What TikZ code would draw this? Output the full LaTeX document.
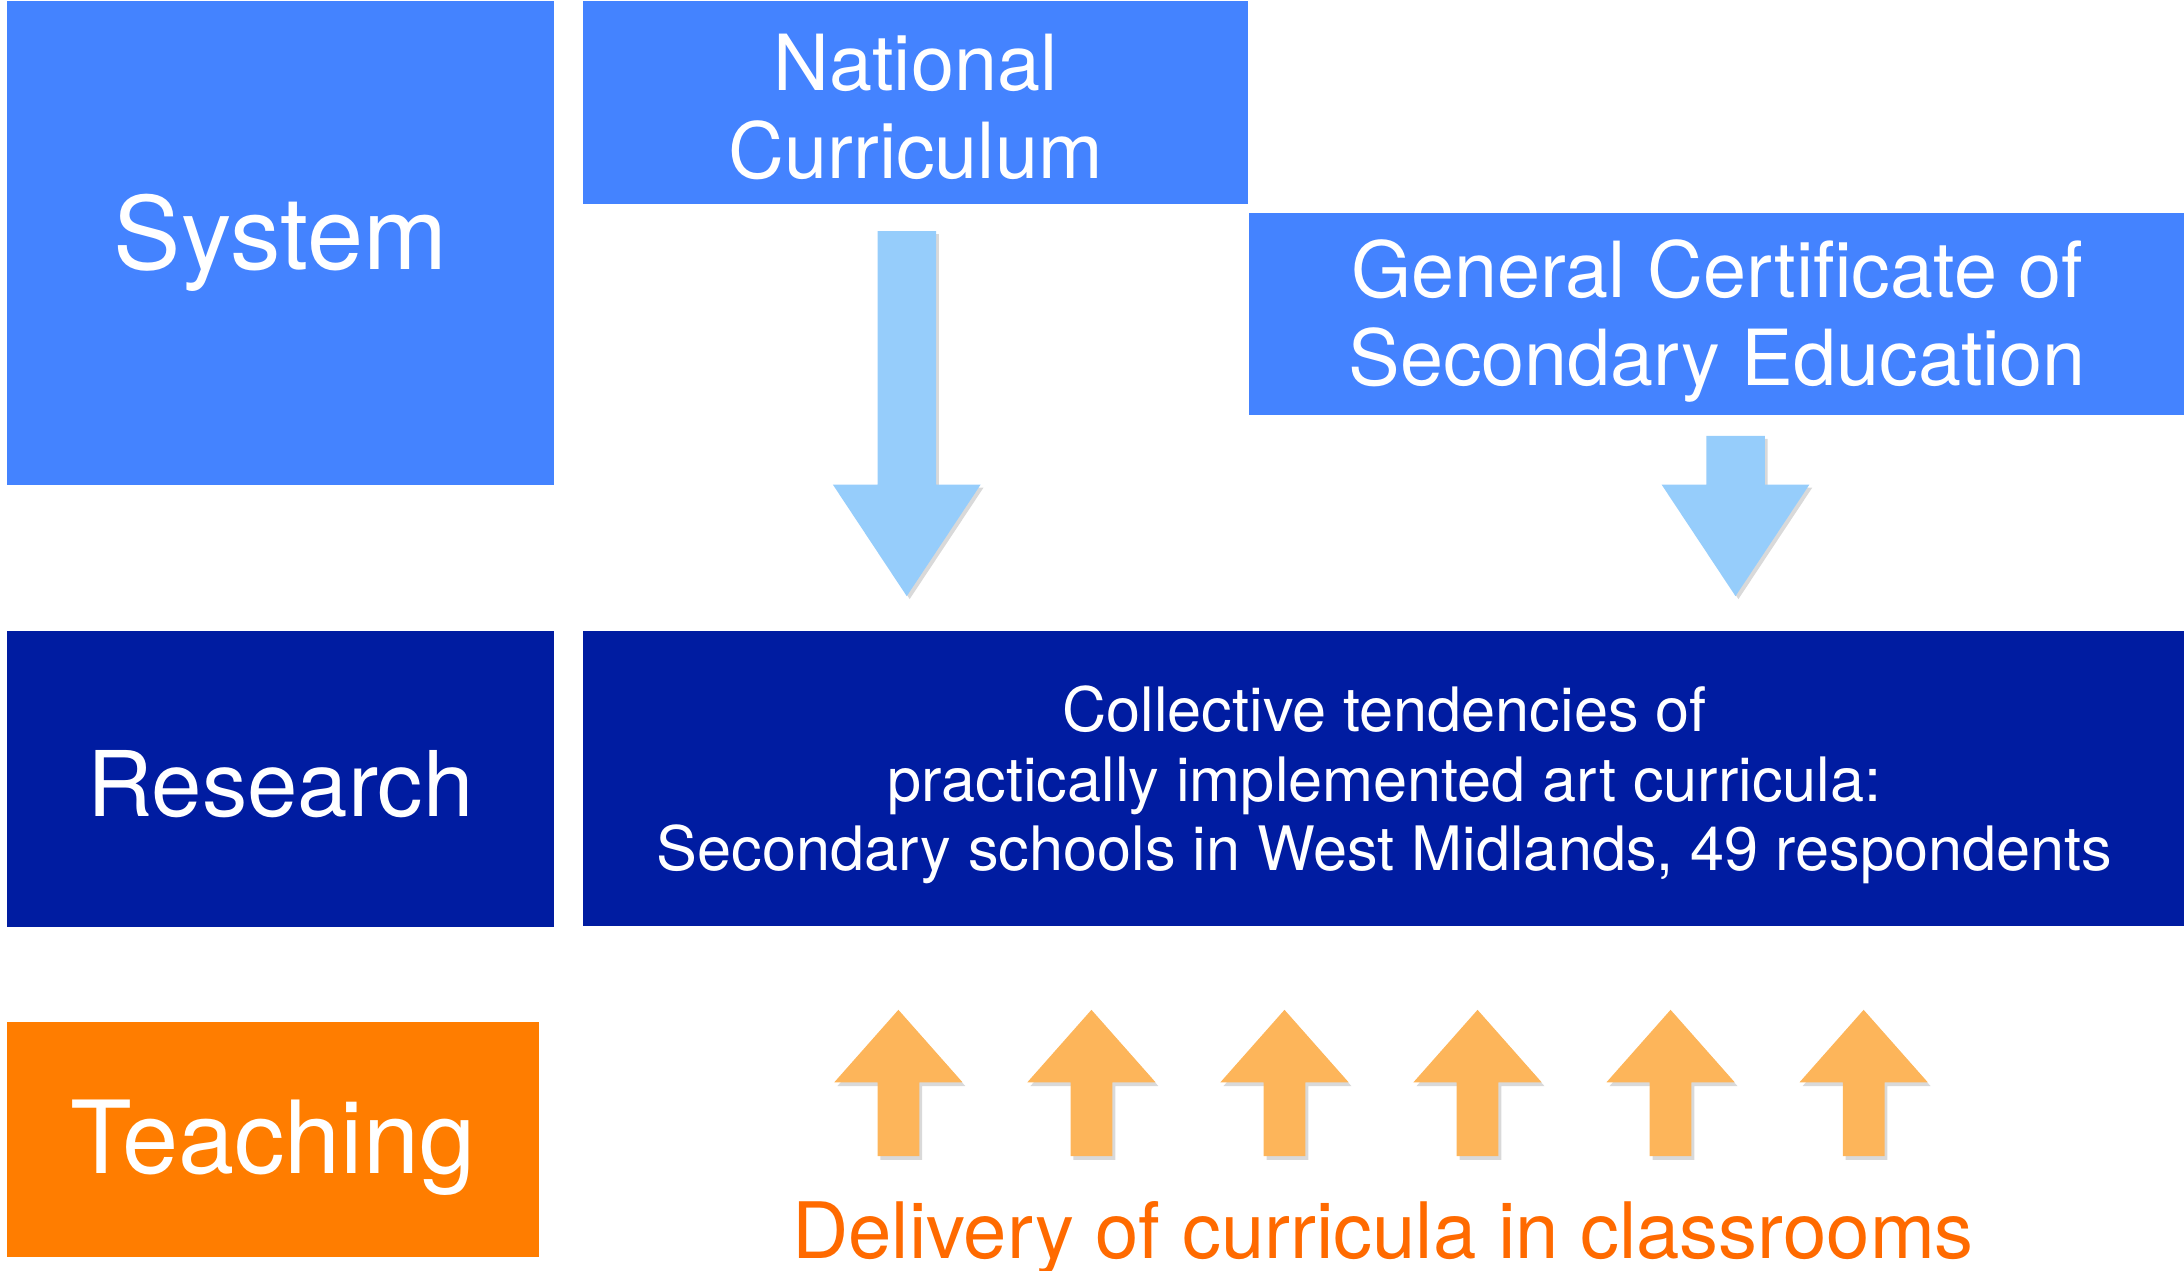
\documentclass[tikz,border=0pt]{standalone}
\usepackage{fontspec}
\setmainfont{TeX Gyre Heros}
\usetikzlibrary{positioning, shadows}

\definecolor{sysblue}{HTML}{4483FF}
\definecolor{resblue}{HTML}{001CA1}
\definecolor{teachorange}{HTML}{FF7D00}
\definecolor{arrowblue}{HTML}{96CDFB}
\definecolor{arroworange}{HTML}{FDB55A}
\definecolor{textorange}{HTML}{FF6A00}

\begin{document}
\begin{tikzpicture}[x=0.01cm, y=-0.01cm,
    box/.style={anchor=north west, inner sep=0pt},
    caption/.style={text=white, align=center, inner sep=0pt},
    downarrow/.style={fill=arrowblue, drop shadow={opacity=0.3, shadow xshift=0.6pt, shadow yshift=-0.6pt}},
    uparrow/.style={fill=arroworange, drop shadow={opacity=0.3, shadow xshift=0.6pt, shadow yshift=-0.8pt}}]
    \useasboundingbox (0,0) rectangle (1568,912);

    % left column
    \node[box, fill=sysblue, minimum width=3.93cm, minimum height=3.47cm,
        label={[caption, font=\fontsize{20.6}{24}\selectfont]center:System}] (system) at (4,0) {};
    \node[box, fill=resblue, minimum width=3.93cm, minimum height=2.13cm,
        label={[caption, yshift=-0.04cm, font=\fontsize{18.5}{22}\selectfont]center:Research}] (research) at (4,452) {};
    \node[box, fill=teachorange, minimum width=3.82cm, minimum height=1.69cm,
        label={[caption, yshift=-0.06cm, font=\fontsize{20.6}{24}\selectfont]center:Teaching}] (teaching) at (4,733) {};

    % system level
    \node[box, fill=sysblue, minimum width=4.77cm, minimum height=1.46cm,
        label={[caption, yshift=-0.03cm, font=\fontsize{15.8}{17.9}\selectfont]center:National\\Curriculum}] (nc) at (418,0) {};
    \node[box, fill=sysblue, minimum width=6.72cm, minimum height=1.45cm,
        label={[caption, yshift=-0.05cm, font=\fontsize{15.8}{17.9}\selectfont]center:General Certificate of\\Secondary Education}] (gcse) at (896,152) {};

    % research level
    \node[box, fill=resblue, minimum width=11.50cm, minimum height=2.12cm,
        label={[caption, yshift=-0.05cm, font=\fontsize{12.5}{14.2}\selectfont]center:Collective tendencies of\\practically implemented art curricula:\\Secondary schools in West Midlands, 49 respondents}] (tendencies) at (418,452) {};

    % arrows down from the system
    \foreach \cx/\top in {651/166, 1246/313}
        \fill[downarrow] (\cx-21,\top) -- (\cx+21,\top) -- (\cx+21,348) -- (\cx+53,348)
            -- (\cx,428) -- (\cx-53,348) -- (\cx-21,348) -- cycle;

    % arrows up from the classrooms
    \foreach \i in {0,...,5} {
        \pgfmathsetmacro{\cx}{645+138.6*\i}
        \fill[uparrow] (\cx-15,830) -- (\cx-15,777) -- (\cx-46,777) -- (\cx,725)
            -- (\cx+46,777) -- (\cx+15,777) -- (\cx+15,830) -- cycle;
    }

    \node[text=textorange, font=\fontsize{15.9}{18}\selectfont] (delivery) at (993,889)
        {Delivery of curricula in classrooms};
\end{tikzpicture}
\end{document}
